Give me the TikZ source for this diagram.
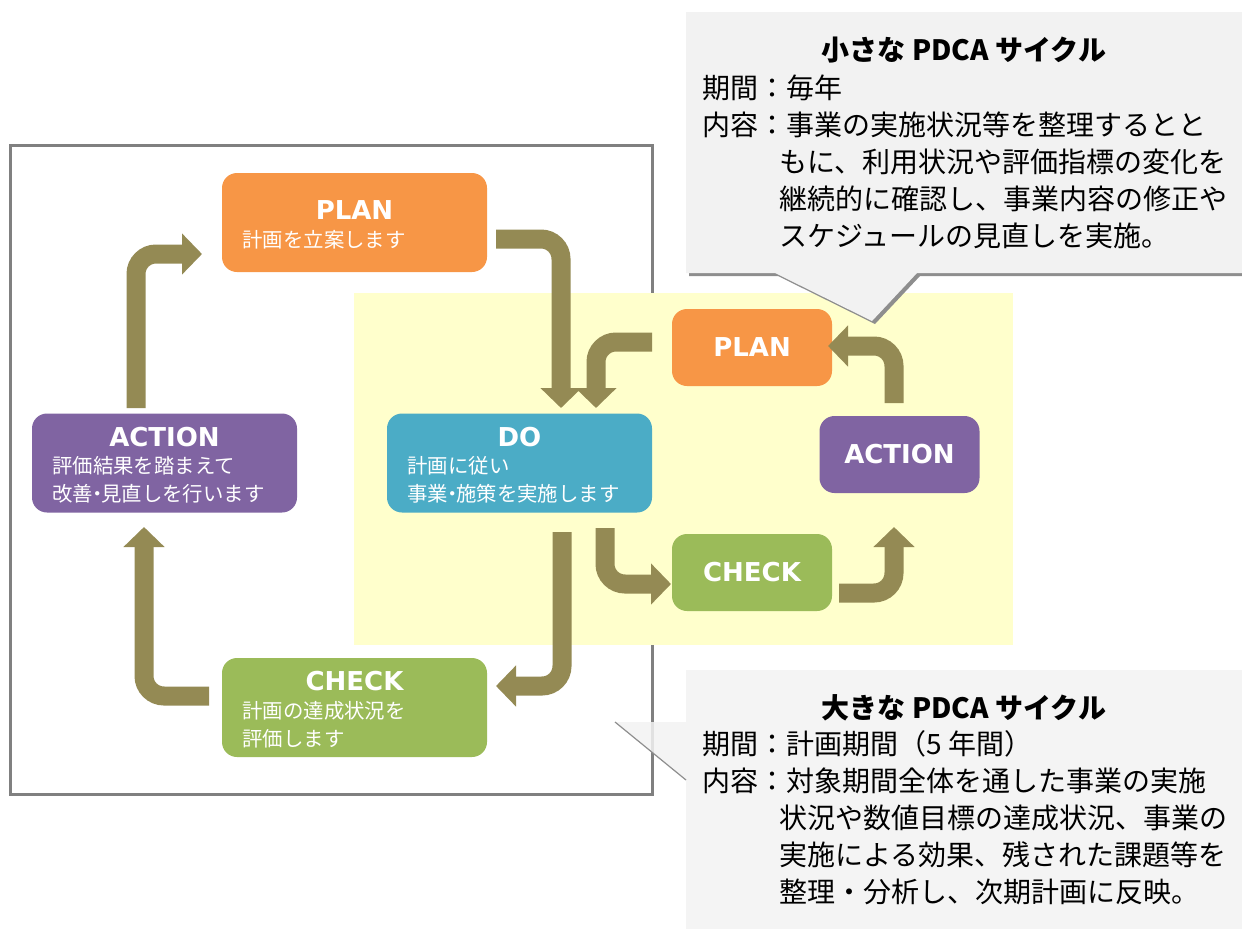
\documentclass[tikz,border=0pt]{standalone}
\usepackage{fontspec}
\setmainfont{Noto Sans CJK JP}
\newfontfamily\latfont{DejaVu Sans}
\usetikzlibrary{arrows.meta}
\definecolor{cOrange}{HTML}{F79646}
\definecolor{cBlue}{HTML}{4BACC6}
\definecolor{cPurple}{HTML}{8064A2}
\definecolor{cGreen}{HTML}{9BBB59}
\definecolor{cArrow}{HTML}{948A54}
\definecolor{cYellow}{HTML}{FFFFCC}
\definecolor{cCallout}{HTML}{F2F2F2}
\definecolor{cShadow}{HTML}{8E8E8E}
\definecolor{cFrame}{HTML}{808080}
\newcommand{\nkdot}{\kern-0.3em・\kern-0.3em}
\begin{document}
\begin{tikzpicture}[x=0.5pt,y=-0.5pt,
  bigbox/.style={rounded corners=7.5pt, inner sep=0, minimum width=132.5pt, minimum height=49.5pt},
  smallbox/.style={rounded corners=7.5pt, inner sep=0, minimum width=80pt, minimum height=38.5pt},
  ttl/.style={text=white, font=\latfont\bfseries\fontsize{13}{15}\selectfont, inner sep=0},
  body/.style={text=white, font=\fontsize{10.2}{14}\selectfont, align=left, anchor=west, inner sep=0},
  arr/.style={draw=cArrow, line width=9.5pt, rounded corners=10pt, -{Triangle[width=20pt,length=10pt]}},
  ctitle/.style={font=\bfseries\fontsize{14}{16}\selectfont, inner sep=0},
  ctext/.style={font=\fontsize{14}{18.5}\selectfont, align=left, anchor=west, inner sep=0}
]
\useasboundingbox (0,0) rectangle (1242,928);
\clip (0,0) rectangle (1242,928);

% frame and yellow area
\draw[cFrame, line width=1.5pt] (10,145) rectangle (652,794);
\fill[cYellow] (354,293) rectangle (1013,645);

% top callout
\fill[cShadow] (689,15) -- (1253,15) -- (1253,276) -- (920,276) -- (875,324) -- (778,276) -- (689,276) -- cycle;
\fill[cCallout] (686,12) -- (1250,12) -- (1250,273) -- (917,273) -- (872,321) -- (775,273) -- (686,273) -- cycle;
\node[ctitle] (t1) at (964,50) {小さな PDCA サイクル};
\node[ctext] (t1b) at (702,161.5) {期間：毎年\\内容：事業の実施状況等を整理するとと\\\hspace*{38.5pt}もに、利用状況や評価指標の変化を\\\hspace*{38.5pt}継続的に確認し、事業内容の修正や\\\hspace*{38.5pt}スケジュールの見直しを実施。};

% bottom callout
\fill[cCallout, fill opacity=0.85] (686,670) -- (1250,670) -- (1250,935) -- (686,935) -- (686,780) -- (615,722) -- (686,722) -- cycle;
\draw[cShadow, line width=0.6pt] (615,722) -- (686,780);
\node[ctitle] (t2) at (964,708) {大きな PDCA サイクル};
\node[ctext] (t2b) at (702,818) {期間：計画期間（5 年間）\\内容：対象期間全体を通した事業の実施\\\hspace*{38.5pt}状況や数値目標の達成状況、事業の\\\hspace*{38.5pt}実施による効果、残された課題等を\\\hspace*{38.5pt}整理・分析し、次期計画に反映。};

% big cycle boxes
\node[bigbox, fill=cOrange] (plan) at (354.5,222.5) {};
\node[ttl] (planT) at (354.5,210) {PLAN};
\node[body] (planB) at (242,240) {計画を立案します};

\node[bigbox, fill=cBlue] (do) at (519.5,463) {};
\node[ttl] (doT) at (519.5,437) {DO};
\node[body] (doB) at (407,480) {計画に従い\\事業\nkdot 施策を実施します};

\node[bigbox, fill=cPurple] (act) at (164.5,463) {};
\node[ttl] (actT) at (164.5,437) {ACTION};
\node[body] (actB) at (52,480) {評価結果を踏まえて\\改善\nkdot 見直しを行います};

\node[bigbox, fill=cGreen] (chk) at (354.5,707.5) {};
\node[ttl] (chkT) at (354.5,681) {CHECK};
\node[body] (chkB) at (242,725) {計画の達成状況を\\評価します};

% small cycle boxes
\node[smallbox, fill=cOrange, ttl] (splan) at (752,347.5) {PLAN};
\node[smallbox, fill=cPurple, ttl] (sact) at (899.5,454.5) {ACTION};
\node[smallbox, fill=cGreen, ttl] (schk) at (752,572.5) {CHECK};

% arrow coordinates
\coordinate (a1s) at (496,239); \coordinate (a1m) at (561,239); \coordinate (a1e) at (561,408);
\coordinate (a2s) at (562,532); \coordinate (a2m) at (562,686); \coordinate (a2e) at (496,686);
\coordinate (a3s) at (209,696); \coordinate (a3m) at (144,696); \coordinate (a3e) at (144,527);
\coordinate (a4s) at (136,408); \coordinate (a4m) at (136,254); \coordinate (a4e) at (202,254);
\coordinate (b1s) at (652,342); \coordinate (b1m) at (596,342); \coordinate (b1e) at (596,408);
\coordinate (b2s) at (605,528); \coordinate (b2m) at (605,584); \coordinate (b2e) at (671,584);
\coordinate (b3s) at (839,593); \coordinate (b3m) at (894,593); \coordinate (b3e) at (894,527);
\coordinate (b4s) at (894,403); \coordinate (b4m) at (894,346); \coordinate (b4e) at (828,346);

\draw[arr] (a1s) -- (a1m) -- (a1e);
\draw[arr] (a2s) -- (a2m) -- (a2e);
\draw[arr] (a3s) -- (a3m) -- (a3e);
\draw[arr] (a4s) -- (a4m) -- (a4e);
\draw[arr] (b1s) -- (b1m) -- (b1e);
\draw[arr] (b2s) -- (b2m) -- (b2e);
\draw[arr] (b3s) -- (b3m) -- (b3e);
\draw[arr] (b4s) -- (b4m) -- (b4e);
\end{tikzpicture}
\end{document}
